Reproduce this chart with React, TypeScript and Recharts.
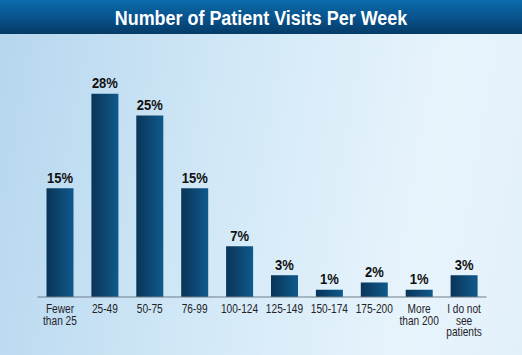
import React from "react";
import { BarChart, Bar, XAxis, YAxis, LabelList } from "recharts";

const categories = [
  ["Fewer", "than 25"],
  ["25-49"],
  ["50-75"],
  ["76-99"],
  ["100-124"],
  ["125-149"],
  ["150-174"],
  ["175-200"],
  ["More", "than 200"],
  ["I do not", "see", "patients"],
];
const values = [15, 28, 25, 15, 7, 3, 1, 2, 1, 3];
const title = "Number of Patient Visits Per Week";

const data = categories.map((c, i) => ({ name: c.join("|"), value: values[i] }));

const FONT = "'Liberation Sans', Arial, sans-serif";

const Tick = (props: any) => {
  const { x, y, payload } = props;
  const lines = String(payload.value).split("|");
  return (
    <g transform={`translate(${x},${y}) scale(0.78,1)`}>
      <text x={0} y={0} textAnchor="middle" fontFamily={FONT} fontSize={13} fill="#1f2328">
        {lines.map((l, i) => (
          <tspan key={i} x={0} dy={i === 0 ? 10.3 : 11.5}>
            {l}
          </tspan>
        ))}
      </text>
    </g>
  );
};

const ValueLabel = (props: any) => {
  const { x, y, width, value } = props;
  const cx = Number(x) + Number(width) / 2;
  const by = Number(y) - 5.5;
  return (
    <g transform={`translate(${cx},${by}) scale(0.84,1)`}>
      <text x={0} y={0} textAnchor="middle" fontFamily={FONT} fontWeight={700} fontSize={15.5} fill="#111111">
        {`${value}%`}
      </text>
    </g>
  );
};

export default function App() {
  return (
    <div
      style={{
        position: "absolute",
        left: 0,
        top: 0,
        width: 522,
        height: 355,
        overflow: "hidden",
        background: "linear-gradient(100deg, #b5d6ee 0%, #d3e9f7 45%, #e8f4fc 80%, #e2f0fa 100%)",
      }}
    >
      <div
        style={{
          position: "absolute",
          left: 0,
          top: 0,
          width: 522,
          height: 34,
          background: "linear-gradient(180deg, #0b6cab 0%, #08518a 55%, #053b66 100%)",
          textAlign: "center",
        }}
      >
        <span
          style={{
            display: "inline-block",
            color: "#ffffff",
            fontFamily: FONT,
            fontWeight: 700,
            fontSize: 19.5,
            lineHeight: "37px",
            transform: "scaleX(0.92)",
            whiteSpace: "nowrap",
          }}
        >
          {title}
        </span>
      </div>
      <div style={{ position: "absolute", left: 0, top: 0 }}>
        <BarChart
          width={522}
          height={355}
          data={data}
          margin={{ top: 43, right: 35.5, bottom: 8, left: 37.5 }}
        >
          <defs>
            <linearGradient id="barGrad" x1="0" y1="0" x2="1" y2="0">
              <stop offset="0%" stopColor="#0a3458" />
              <stop offset="100%" stopColor="#0f5a8c" />
            </linearGradient>
          </defs>
          <XAxis
            dataKey="name"
            interval={0}
            height={50}
            tickLine={false}
            axisLine={{ stroke: "#6f7d89", strokeWidth: 1 }}
            tick={<Tick />}
            tickMargin={0}
          />
          <YAxis hide domain={[0, 35]} />
          <Bar dataKey="value" fill="url(#barGrad)" barSize={27} isAnimationActive={false}>
            <LabelList dataKey="value" content={<ValueLabel />} />
          </Bar>
        </BarChart>
      </div>
    </div>
  );
}
